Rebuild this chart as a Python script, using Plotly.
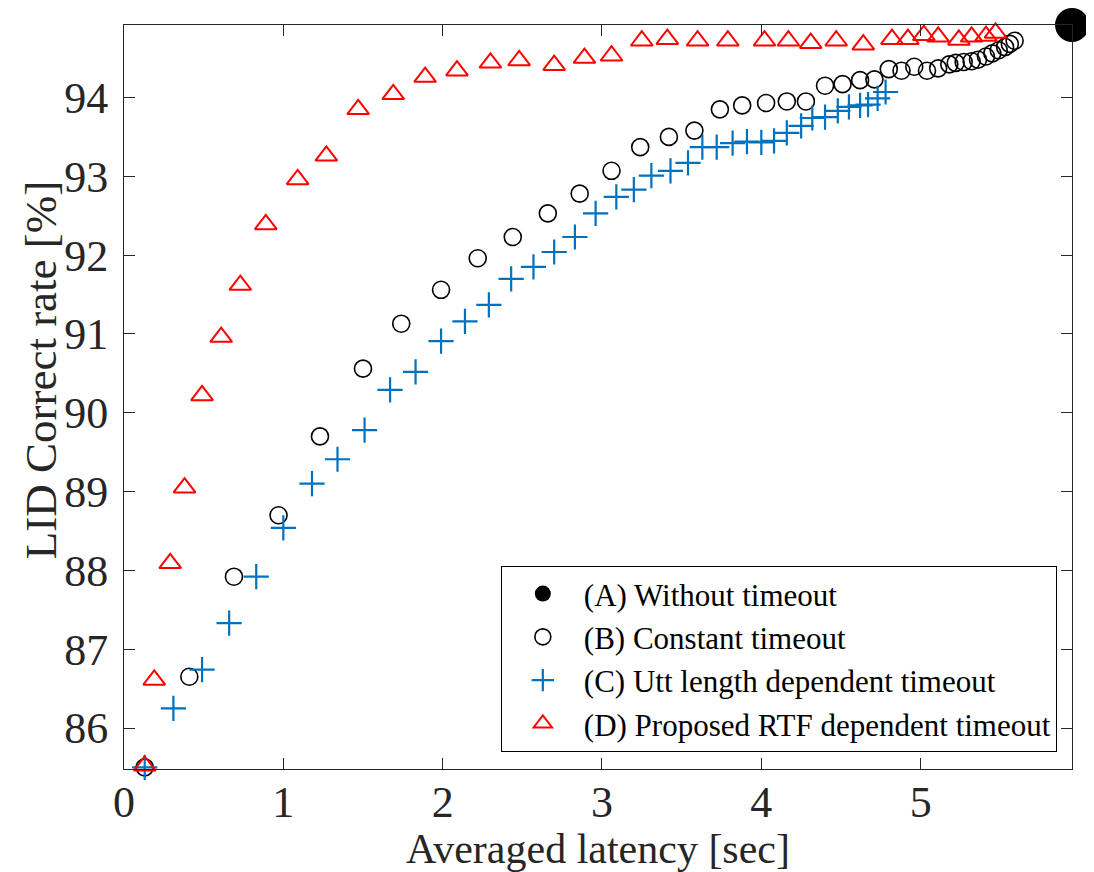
import plotly.graph_objects as go

# (A) Without timeout
a_x = [5.95]
a_y = [94.92]

# (B) Constant timeout
b_x = [0.13, 0.41, 0.69, 0.97, 1.23, 1.50, 1.74, 1.99, 2.22, 2.44, 2.66, 2.86, 3.06, 3.24,
       3.42, 3.58, 3.74, 3.88, 4.03, 4.16, 4.28, 4.40, 4.51, 4.62, 4.71, 4.80, 4.88, 4.96,
       5.04, 5.11, 5.18, 5.22, 5.27, 5.32, 5.36, 5.41, 5.45, 5.49, 5.53, 5.56, 5.59]
b_y = [85.50, 86.65, 87.92, 88.70, 89.70, 90.56, 91.13, 91.56, 91.96, 92.23, 92.53, 92.78,
       93.07, 93.37, 93.50, 93.58, 93.85, 93.90, 93.93, 93.95, 93.95, 94.15, 94.17, 94.22,
       94.23, 94.36, 94.34, 94.39, 94.34, 94.37, 94.42, 94.44, 94.45, 94.46, 94.48, 94.52,
       94.56, 94.60, 94.64, 94.68, 94.72]

# (C) Utt length dependent timeout
c_x = [0.13, 0.31, 0.49, 0.66, 0.83, 1.00, 1.18, 1.34, 1.51, 1.67, 1.83, 1.99, 2.14, 2.29,
       2.43, 2.57, 2.70, 2.83, 2.96, 3.09, 3.20, 3.31, 3.43, 3.54, 3.63, 3.72, 3.82, 3.91,
       4.00, 4.08, 4.16, 4.25, 4.32, 4.40, 4.48, 4.55, 4.62, 4.67, 4.73, 4.78]
c_y = [85.50, 86.25, 86.74, 87.33, 87.92, 88.54, 89.10, 89.41, 89.78, 90.29, 90.52, 90.91,
       91.16, 91.37, 91.70, 91.85, 92.04, 92.23, 92.53, 92.74, 92.83, 93.01, 93.07, 93.17,
       93.37, 93.37, 93.42, 93.44, 93.43, 93.45, 93.55, 93.64, 93.74, 93.75, 93.83, 93.88,
       93.90, 93.91, 93.99, 94.07]

# (D) Proposed RTF dependent timeout
d_x = [0.13, 0.19, 0.29, 0.38, 0.49, 0.61, 0.73, 0.89, 1.09, 1.27, 1.47, 1.69, 1.89, 2.09,
       2.30, 2.48, 2.70, 2.89, 3.06, 3.25, 3.41, 3.60, 3.79, 4.02, 4.17, 4.31, 4.47, 4.64,
       4.82, 4.92, 5.02, 5.11, 5.24, 5.32, 5.41, 5.47]
d_y = [85.52, 86.61, 88.09, 89.05, 90.22, 90.96, 91.62, 92.39, 92.96, 93.26, 93.85, 94.04,
       94.26, 94.34, 94.44, 94.47, 94.41, 94.50, 94.53, 94.72, 94.74, 94.72, 94.72, 94.72,
       94.72, 94.69, 94.72, 94.67, 94.74, 94.74, 94.79, 94.77, 94.73, 94.77, 94.78, 94.82]

names = ["(A) Without timeout", "(B) Constant timeout",
         "(C) Utt length dependent timeout", "(D) Proposed RTF dependent timeout"]

x_title = "Averaged latency [sec]"
y_title = "LID Correct rate [%]"

x_ticks = [0, 1, 2, 3, 4, 5]
y_ticks = [86, 87, 88, 89, 90, 91, 92, 93, 94]

FONT = "Liberation Serif, Times New Roman, serif"
AX = "#262626"

fig = go.Figure()
fig.add_trace(go.Scatter(x=a_x, y=a_y, mode="markers", name=names[0], cliponaxis=False,
                         marker=dict(symbol="circle", size=34, color="black")))
fig.add_trace(go.Scatter(x=b_x, y=b_y, mode="markers", name=names[1], cliponaxis=False,
                         marker=dict(symbol="circle-open", size=17, color="black",
                                     line=dict(width=1.6, color="black"))))
fig.add_trace(go.Scatter(x=c_x, y=c_y, mode="markers", name=names[2], cliponaxis=False,
                         marker=dict(symbol="cross-thin-open", size=18, color="#0072BD",
                                     line=dict(width=2.2, color="#0072BD"))))
fig.add_trace(go.Scatter(x=d_x, y=d_y, mode="markers", name=names[3], cliponaxis=False,
                         marker=dict(symbol="triangle-up-open", size=19, color="#FF0000",
                                     line=dict(width=2, color="#FF0000"))))

# the page body has an 8px default margin, so the figure is offset by 8px
fig.update_layout(
    width=1094, height=872,
    margin=dict(l=116, r=30, t=17, b=111),
    paper_bgcolor="white", plot_bgcolor="white",
    font=dict(family=FONT, color=AX),
    showlegend=True,
    legend=dict(x=0.984, y=0.023, xanchor="right", yanchor="bottom",
                bgcolor="white", bordercolor="black", borderwidth=1,
                font=dict(family=FONT, size=31, color="black"),
                tracegroupgap=0, itemwidth=72),
    xaxis=dict(range=[0, 5.95], tickvals=x_ticks, ticktext=[str(v) for v in x_ticks],
               showgrid=False, zeroline=False, showline=True, linecolor=AX, linewidth=1,
               mirror="ticks", ticks="inside", ticklen=11, tickcolor=AX,
               ticklabelstandoff=-6,
               tickfont=dict(family=FONT, size=44, color=AX)),
    yaxis=dict(range=[85.48, 94.92], tickvals=y_ticks, ticktext=[str(v) for v in y_ticks],
               showgrid=False, zeroline=False, showline=True, linecolor=AX, linewidth=1,
               mirror="ticks", ticks="inside", ticklen=11, tickcolor=AX,
               ticklabelstandoff=6,
               tickfont=dict(family=FONT, size=44, color=AX)),
    annotations=[
        dict(text=x_title, xref="paper", yref="paper", x=0.5, y=-0.107,
             xanchor="center", yanchor="middle", showarrow=False,
             font=dict(family=FONT, size=42, color=AX)),
        dict(text=y_title, xref="paper", yref="paper", x=-0.0875, y=0.536,
             xanchor="center", yanchor="middle", showarrow=False, textangle=-90,
             font=dict(family=FONT, size=45, color=AX)),
    ],
)

fig.write_html("out.html")
